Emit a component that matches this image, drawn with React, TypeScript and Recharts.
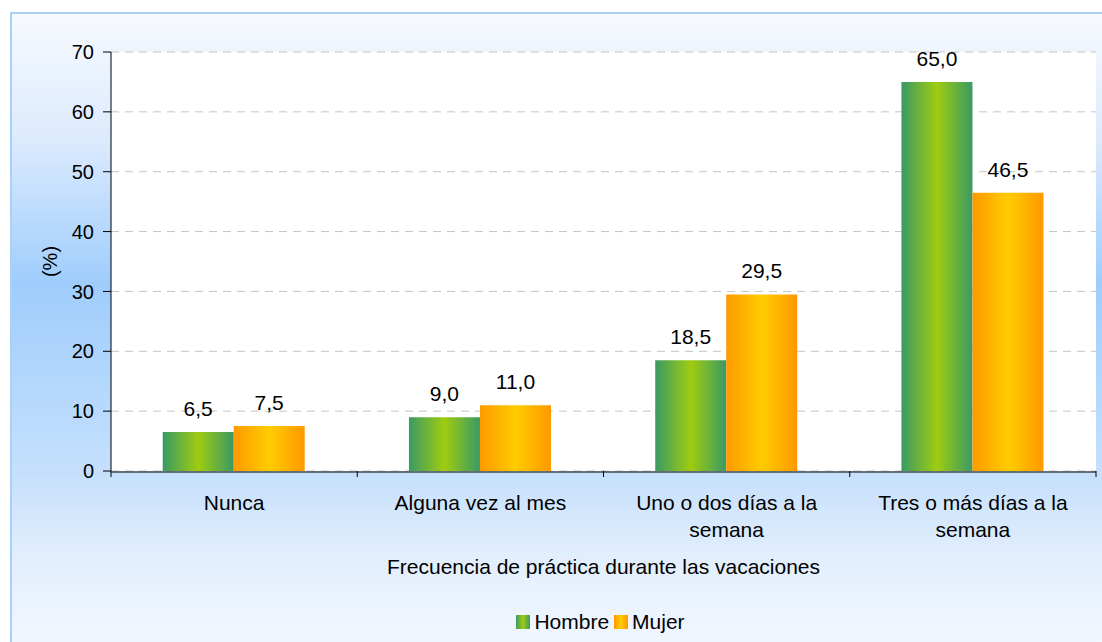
import React from 'react'
import {
  BarChart,
  Bar,
  XAxis,
  YAxis,
  CartesianGrid,
  LabelList,
} from 'recharts'

const categories = [
  'Nunca',
  'Alguna vez al mes',
  'Uno o dos días a la semana',
  'Tres o más días a la semana',
]
const hombre = [6.5, 9.0, 18.5, 65.0]
const mujer = [7.5, 11.0, 29.5, 46.5]
const yTicks = [0, 10, 20, 30, 40, 50, 60, 70]
const boundaryTicks = [0, 1, 2, 3, 4]

// two-line labels for the long categories
const tickLines: Record<string, string[]> = {
  'Uno o dos días a la semana': ['Uno o dos días a la', 'semana'],
  'Tres o más días a la semana': ['Tres o más días a la', 'semana'],
}

const data = categories.map((c, i) => ({
  name: c,
  pos: i + 0.5,
  hombre: hombre[i],
  mujer: mujer[i],
}))

const FONT = '"Liberation Sans", Arial, sans-serif'

const fmt = (v: number) => v.toFixed(1).replace('.', ',')

function CategoryTick(props: any) {
  const { x, y, payload } = props
  const lines = tickLines[payload.value] || [payload.value]
  return (
    <g>
      {lines.map((l, i) => (
        <text
          key={i}
          x={x}
          y={y + 30 + i * 27}
          textAnchor="middle"
          fontSize={21}
          fontFamily={FONT}
          fill="#000"
        >
          {l}
        </text>
      ))}
    </g>
  )
}

function LegendSwatch({ id, c1, c2 }: { id: string; c1: string; c2: string }) {
  return (
    <svg width={14} height={14} style={{ marginRight: 4 }}>
      <defs>
        <linearGradient id={id} x1="0" y1="0" x2="1" y2="0">
          <stop offset="0%" stopColor={c1} />
          <stop offset="50%" stopColor={c2} />
          <stop offset="100%" stopColor={c1} />
        </linearGradient>
      </defs>
      <rect x={0} y={0} width={14} height={14} fill={`url(#${id})`} />
    </svg>
  )
}

export default function App() {
  return (
    <div style={styles.page}>
      <div style={styles.panel} />
      <div style={{ position: 'absolute', left: 0, top: 0 }}>
        <BarChart
          width={1102}
          height={642}
          data={data}
          margin={{ top: 52, right: 6, bottom: 50, left: 0 }}
          barCategoryGap="21%"
          barGap={0}
        >
          <defs>
            <linearGradient id="gHombre" x1="0" y1="0" x2="1" y2="0">
              <stop offset="0%" stopColor="#3a9a64" />
              <stop offset="50%" stopColor="#9fcc10" />
              <stop offset="100%" stopColor="#3a9a64" />
            </linearGradient>
            <linearGradient id="gMujer" x1="0" y1="0" x2="1" y2="0">
              <stop offset="0%" stopColor="#ff9900" />
              <stop offset="50%" stopColor="#ffcc00" />
              <stop offset="100%" stopColor="#ff9900" />
            </linearGradient>
          </defs>
          <CartesianGrid
            xAxisId="b"
            vertical={false}
            stroke="#c4c4c4"
            strokeDasharray="8 6"
            fill="#ffffff"
          />
          <XAxis
            xAxisId="b"
            dataKey="name"
            axisLine={{ stroke: '#000' }}
            tickLine={false}
            tick={<CategoryTick />}
            interval={0}
            height={120}
            label={{
              value: 'Frecuencia de práctica durante las vacaciones',
              position: 'insideBottom',
              offset: 18,
              fontSize: 21,
              fontFamily: FONT,
              fill: '#000',
            }}
          />
          {/* category boundary tick marks */}
          <XAxis
            xAxisId="a"
            type="number"
            dataKey="pos"
            domain={[0, 4]}
            ticks={boundaryTicks}
            axisLine={false}
            tickSize={6}
            tickLine={{ stroke: '#000' }}
            tick={() => <g />}
            height={1}
          />
          <YAxis
            domain={[0, 70]}
            ticks={yTicks}
            width={111}
            axisLine={{ stroke: '#000' }}
            tickLine={{ stroke: '#000' }}
            tickSize={8}
            tickMargin={9}
            tick={{ fontSize: 20, fontFamily: FONT, fill: '#000' }}
            label={{
              value: '(%)',
              angle: -90,
              position: 'center',
              dx: -6,
              fontSize: 20,
              fontFamily: FONT,
              fill: '#000',
            }}
          />
          <Bar xAxisId="b" dataKey="hombre" name="Hombre" fill="url(#gHombre)" isAnimationActive={false}>
            <LabelList
              dataKey="hombre"
              position="top"
              offset={16}
              formatter={(v: any) => fmt(Number(v))}
              style={{ fontSize: 21, fontFamily: FONT, fill: '#000' }}
            />
          </Bar>
          <Bar xAxisId="b" dataKey="mujer" name="Mujer" fill="url(#gMujer)" isAnimationActive={false}>
            <LabelList
              dataKey="mujer"
              position="top"
              offset={16}
              formatter={(v: any) => fmt(Number(v))}
              style={{ fontSize: 21, fontFamily: FONT, fill: '#000' }}
            />
          </Bar>
        </BarChart>
      </div>
      <div style={styles.legend}>
        <span style={styles.legendItem}>
          <LegendSwatch id="lgH" c1="#3a9a64" c2="#9fcc10" />
          Hombre
        </span>
        <span style={styles.legendItem}>
          <LegendSwatch id="lgM" c1="#ff9900" c2="#ffcc00" />
          Mujer
        </span>
      </div>
    </div>
  )
}

const styles: Record<string, React.CSSProperties> = {
  page: {
    position: 'fixed',
    left: 0,
    top: 0,
    width: 1102,
    height: 642,
    background: '#ffffff',
    overflow: 'hidden',
  },
  panel: {
    position: 'absolute',
    left: 10,
    top: 12,
    width: 1100,
    height: 640,
    borderTop: '2px solid #a8d0fa',
    borderLeft: '2px solid #a8d0fa',
    background:
      'linear-gradient(to bottom, #f7faff 0%, #dbeafd 20%, #9fcdfc 42%, #c6e0fc 72%, #e2eefd 85%, #f4f8ff 100%)',
  },
  legend: {
    position: 'absolute',
    left: 110,
    top: 610,
    width: 986,
    display: 'flex',
    justifyContent: 'center',
    alignItems: 'center',
    fontFamily: FONT,
    fontSize: 21,
    color: '#000',
  },
  legendItem: {
    display: 'inline-flex',
    alignItems: 'center',
    marginRight: 5,
  },
}
